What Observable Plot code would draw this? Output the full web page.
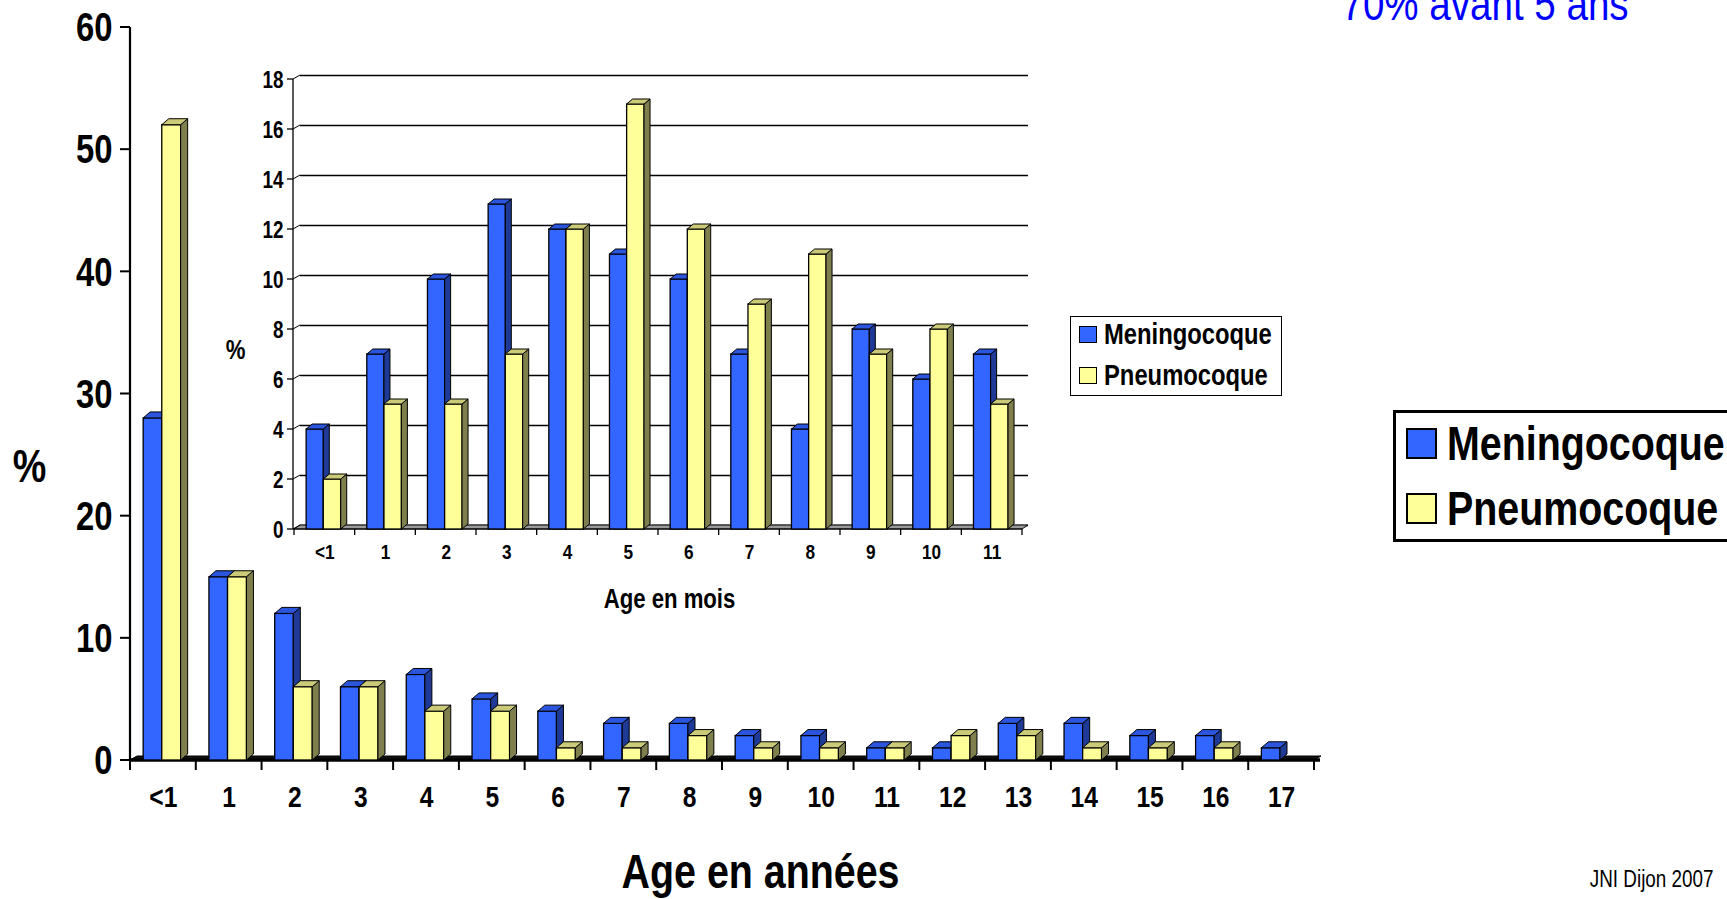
<!DOCTYPE html>
<html>
<head>
<meta charset="utf-8">
<script src="https://cdn.jsdelivr.net/npm/d3@7"></script>
<script src="https://cdn.jsdelivr.net/npm/@observablehq/plot@0.6"></script>
<style>
  body { margin: 0; background: #fff; }
  #root { position: relative; width: 1727px; height: 899px; overflow: hidden; background: #fff; }
  .layer { position: absolute; left: 0; top: 0; }
  .legend { position: absolute; background: #fff; box-sizing: border-box; font-family: "Liberation Sans", Arial, sans-serif; font-weight: bold; color: #000; }
  .legend .row { position: absolute; display: flex; align-items: center; white-space: nowrap; }
  .legend .sw { box-sizing: border-box; border: 2px solid #000; flex: none; }
  .legend .tx { display: inline-block; transform: scaleX(0.82); transform-origin: left center; }
</style>
</head>
<body>
<div id="root">
  <div id="main" class="layer"></div>
  <div id="inset" class="layer"></div>
  <div id="legendInset" class="legend"></div>
  <div id="legendMain" class="legend"></div>
</div>
<script>
// ---------- DATA ----------
const seriesNames = ["Meningocoque", "Pneumocoque"];

const agesYears = ["<1","1","2","3","4","5","6","7","8","9","10","11","12","13","14","15","16","17"];
const meningoYears = [28, 15, 12, 6, 7, 5, 4, 3, 3, 2, 2, 1, 1, 3, 3, 2, 2, 1];
const pneumoYears  = [52, 15, 6, 6, 4, 4, 1, 1, 2, 1, 1, 1, 2, 2, 1, 1, 1, 0];
const yTicksYears = [0, 10, 20, 30, 40, 50, 60];

const agesMonths = ["<1","1","2","3","4","5","6","7","8","9","10","11"];
const meningoMonths = [4, 7, 10, 13, 12, 11, 10, 7, 4, 8, 6, 7];
const pneumoMonths  = [2, 5, 5, 7, 12, 17, 12, 9, 11, 7, 8, 5];
const yTicksMonths = [0, 2, 4, 6, 8, 10, 12, 14, 16, 18];

const titleYears = "Age en années";
const titleMonths = "Age en mois";
const yLabel = "%";
const note = "70% avant 5 ans";
const credit = "JNI Dijon 2007";

// ---------- STYLE ----------
const FONT = '"Liberation Sans", Arial, sans-serif';
const NARROW = 0.82;
const palette = [
  {front: "#3366FF", top: "#2A55DC", side: "#1E3A96"},
  {front: "#FFFF99", top: "#CACA78", side: "#7F7F4E"}
];
const slots = [[0.2, 0.483], [0.483, 0.77]];

function toRows(ages, a, b) {
  const rows = [];
  ages.forEach((age, i) => {
    rows.push({age, series: seriesNames[0], k: 0, value: a[i]});
    rows.push({age, series: seriesNames[1], k: 1, value: b[i]});
  });
  return rows;
}

const pts = arr => arr.map(p => p.join(",")).join(" ");

function facesMark(rows, k, bw, depth) {
  return (index, scales) => {
    const g = d3.create("svg:g");
    const x = scales.x, y = scales.y;
    const [dx, dy] = depth;
    const c = palette[k];
    for (const d of rows) {
      if (!(d.value > 0)) continue;
      const xa = x(d.age) + slots[k][0] * bw, xb = x(d.age) + slots[k][1] * bw;
      const yt = y(d.value), yb = y(0);
      g.append("polygon").attr("points", pts([[xb, yt], [xb + dx, yt - dy], [xb + dx, yb - dy], [xb, yb]]))
        .attr("fill", c.side).attr("stroke", "#000").attr("stroke-width", 1).attr("stroke-linejoin", "round");
      g.append("polygon").attr("points", pts([[xa, yt], [xb, yt], [xb + dx, yt - dy], [xa + dx, yt - dy]]))
        .attr("fill", c.top).attr("stroke", "#000").attr("stroke-width", 1).attr("stroke-linejoin", "round");
    }
    return g.node();
  };
}

function barMarks(rows, bw, depth) {
  const marks = [];
  [0, 1].forEach(k => {
    const r = rows.filter(d => d.k === k && d.value > 0);
    marks.push(Plot.barY(r, {
      x: "age", y: "value", fill: palette[k].front, stroke: "#000", strokeWidth: 1.3,
      insetLeft: slots[k][0] * bw, insetRight: (1 - slots[k][1]) * bw
    }));
    marks.push(facesMark(r, k, bw, depth));
  });
  return marks;
}

function axesMark(cats, bw, yTicks, opt) {
  return (index, scales) => {
    const g = d3.create("svg:g").attr("stroke", "#000").attr("fill", "none");
    const x = scales.x, y = scales.y;
    const x0 = x(cats[0]), x1 = x(cats[cats.length - 1]) + bw;
    const yb = y(0), ytop = y(yTicks[yTicks.length - 1]);
    if (opt.floor) {
      const [fx, fy] = opt.floor;
      g.append("polygon").attr("points", pts([[x0, yb], [x1, yb], [x1 + fx, yb - fy], [x0 + fx, yb - fy]]))
        .attr("fill", opt.floorFill).attr("stroke", "#000").attr("stroke-width", 1);
    }
    g.append("line").attr("x1", x0 - opt.yAxisOffset).attr("x2", x0 - opt.yAxisOffset)
      .attr("y1", ytop).attr("y2", yb).attr("stroke-width", opt.yAxisWidth);
    for (const t of yTicks) {
      g.append("line").attr("x1", x0 - opt.yAxisOffset - opt.tick).attr("x2", x0 - opt.yAxisOffset)
        .attr("y1", y(t)).attr("y2", y(t)).attr("stroke-width", opt.tickWidth);
      if (opt.connector) {
        g.append("line").attr("x1", x0 - opt.yAxisOffset).attr("x2", x0 + opt.connector[0])
          .attr("y1", y(t)).attr("y2", y(t) - opt.connector[1]).attr("stroke-width", 1);
      }
    }
    g.append("line").attr("x1", x0 - opt.yAxisOffset).attr("x2", x1 + (opt.xExtend || 0))
      .attr("y1", yb).attr("y2", yb).attr("stroke-width", opt.xAxisWidth);
    const bounds = cats.map(c => x(c)).concat([x1]);
    for (const bx of bounds) {
      g.append("line").attr("x1", bx).attr("x2", bx).attr("y1", yb).attr("y2", yb + opt.tick)
        .attr("stroke-width", opt.tickWidth);
    }
    return g.node();
  };
}

const txt = (o) => Object.assign({lineAnchor: "middle", fontFamily: FONT, fill: "#000"}, o);

// ---------- MAIN CHART (years) ----------
const W = 1727, H = 899;
const mainM = {left: 130, right: 413, top: 27, bottom: 139};
const bwMain = (W - mainM.left - mainM.right) / agesYears.length;
const rowsYears = toRows(agesYears, meningoYears, pneumoYears);

const mainPlot = Plot.plot({
  width: W, height: H,
  marginLeft: mainM.left, marginRight: mainM.right, marginTop: mainM.top, marginBottom: mainM.bottom,
  style: {background: "#fff", fontFamily: FONT, color: "#000", overflow: "visible"},
  x: {type: "band", domain: agesYears, padding: 0, round: false, axis: null},
  y: {domain: [0, 60], axis: null},
  marks: [
    axesMark(agesYears, bwMain, yTicksYears, {tick: 10, tickWidth: 2, yAxisWidth: 2.2, xAxisWidth: 3.5, yAxisOffset: 0, floor: [7, 4], floorFill: "#111", xExtend: 6}),
    ...barMarks(rowsYears, bwMain, [7, 6]),
    Plot.text(yTicksYears, txt({y: d => d, frameAnchor: "left", textAnchor: "end", dx: -18, dy: 1,
      fontSize: 40, fontWeight: "bold"})),
    Plot.text(agesYears, txt({x: d => d, frameAnchor: "bottom", textAnchor: "middle", dy: 37, fontSize: 30, fontWeight: "bold"})),
    Plot.text([titleYears], txt({frameAnchor: "bottom", textAnchor: "middle", dx: 38, dy: 112, fontSize: 48, fontWeight: "bold"})),
    Plot.text([yLabel], txt({frameAnchor: "left", textAnchor: "middle", dx: -101, dy: 73, fontSize: 46, fontWeight: "bold"})),
    Plot.text([note], txt({frameAnchor: "top-left", textAnchor: "start", dx: 1211, dy: -23,
      fontSize: 47, fill: "#0000FF"})),
    Plot.text([credit], txt({frameAnchor: "bottom-right", textAnchor: "end", dx: 399, dy: 119, fontSize: 23}))
  ]
});
document.getElementById("main").appendChild(mainPlot);

// ---------- INSET CHART (months) ----------
const insetM = {left: 294, right: 705, top: 79, bottom: 370};
const bwInset = (W - insetM.left - insetM.right) / agesMonths.length;
const rowsMonths = toRows(agesMonths, meningoMonths, pneumoMonths);

const insetPlot = Plot.plot({
  width: W, height: H,
  marginLeft: insetM.left, marginRight: insetM.right, marginTop: insetM.top, marginBottom: insetM.bottom,
  style: {background: "transparent", fontFamily: FONT, color: "#000", overflow: "visible"},
  x: {type: "band", domain: agesMonths, padding: 0, round: false, axis: null},
  y: {domain: [0, 18], axis: null},
  marks: [
    Plot.ruleY(yTicksMonths, {y: d => d, dx: 6, dy: -4, stroke: "#000", strokeWidth: 1.4}),
    axesMark(agesMonths, bwInset, yTicksMonths, {tick: 6, tickWidth: 1.3, yAxisWidth: 1.3, xAxisWidth: 1.2, yAxisOffset: 1, floor: [6, 4], floorFill: "#9a9a9a", connector: [6, 4], xExtend: 0}),
    ...barMarks(rowsMonths, bwInset, [6, 5]),
    Plot.text(yTicksMonths, txt({y: d => d, frameAnchor: "left", textAnchor: "end", dx: -11, dy: 1,
      fontSize: 23, fontWeight: "bold"})),
    Plot.text(agesMonths, txt({x: d => d, frameAnchor: "bottom", textAnchor: "middle", dy: 23, fontSize: 21, fontWeight: "bold"})),
    Plot.text([titleMonths], txt({frameAnchor: "bottom", textAnchor: "middle", dx: 11, dy: 70, fontSize: 27, fontWeight: "bold"})),
    Plot.text([yLabel], txt({frameAnchor: "left", textAnchor: "middle", dx: -59, dy: 46, fontSize: 27, fontWeight: "bold"}))
  ]
});
document.getElementById("inset").appendChild(insetPlot);

// narrow the glyphs (Arial Narrow look) while keeping anchors
function condense(svg, f) {
  svg.querySelectorAll("text").forEach(t => {
    const len = t.getComputedTextLength();
    if (len > 0) {
      t.setAttribute("textLength", (len * f).toFixed(2));
      t.setAttribute("lengthAdjust", "spacingAndGlyphs");
    }
  });
}
condense(mainPlot, NARROW);
condense(insetPlot, NARROW);

// ---------- LEGENDS ----------
function buildLegend(el, box, spec) {
  Object.assign(el.style, {left: box.left + "px", top: box.top + "px", width: box.width + "px",
    height: box.height + "px", border: box.border + "px solid #000"});
  seriesNames.forEach((name, i) => {
    const row = document.createElement("div");
    row.className = "row";
    Object.assign(row.style, {left: spec.left + "px", top: (spec.centers[i] - spec.rowH / 2) + "px",
      height: spec.rowH + "px", fontSize: spec.fontSize + "px"});
    const sw = document.createElement("div");
    sw.className = "sw";
    Object.assign(sw.style, {width: spec.sw[0] + "px", height: spec.sw[1] + "px",
      background: palette[i].front, marginRight: spec.gap + "px", borderWidth: spec.swBorder + "px"});
    const tx = document.createElement("span");
    tx.className = "tx";
    tx.textContent = name;
    row.appendChild(sw); row.appendChild(tx);
    el.appendChild(row);
  });
}
buildLegend(document.getElementById("legendInset"),
  {left: 1070, top: 316, width: 212, height: 80, border: 1.5},
  {left: 7.5, centers: [17.5, 58], rowH: 30, fontSize: 29, sw: [18, 17], gap: 7, swBorder: 1.5});
buildLegend(document.getElementById("legendMain"),
  {left: 1393, top: 410, width: 420, height: 132, border: 3},
  {left: 10, centers: [30, 95], rowH: 56, fontSize: 48, sw: [31, 31], gap: 10, swBorder: 2.5});
</script>
</body>
</html>
